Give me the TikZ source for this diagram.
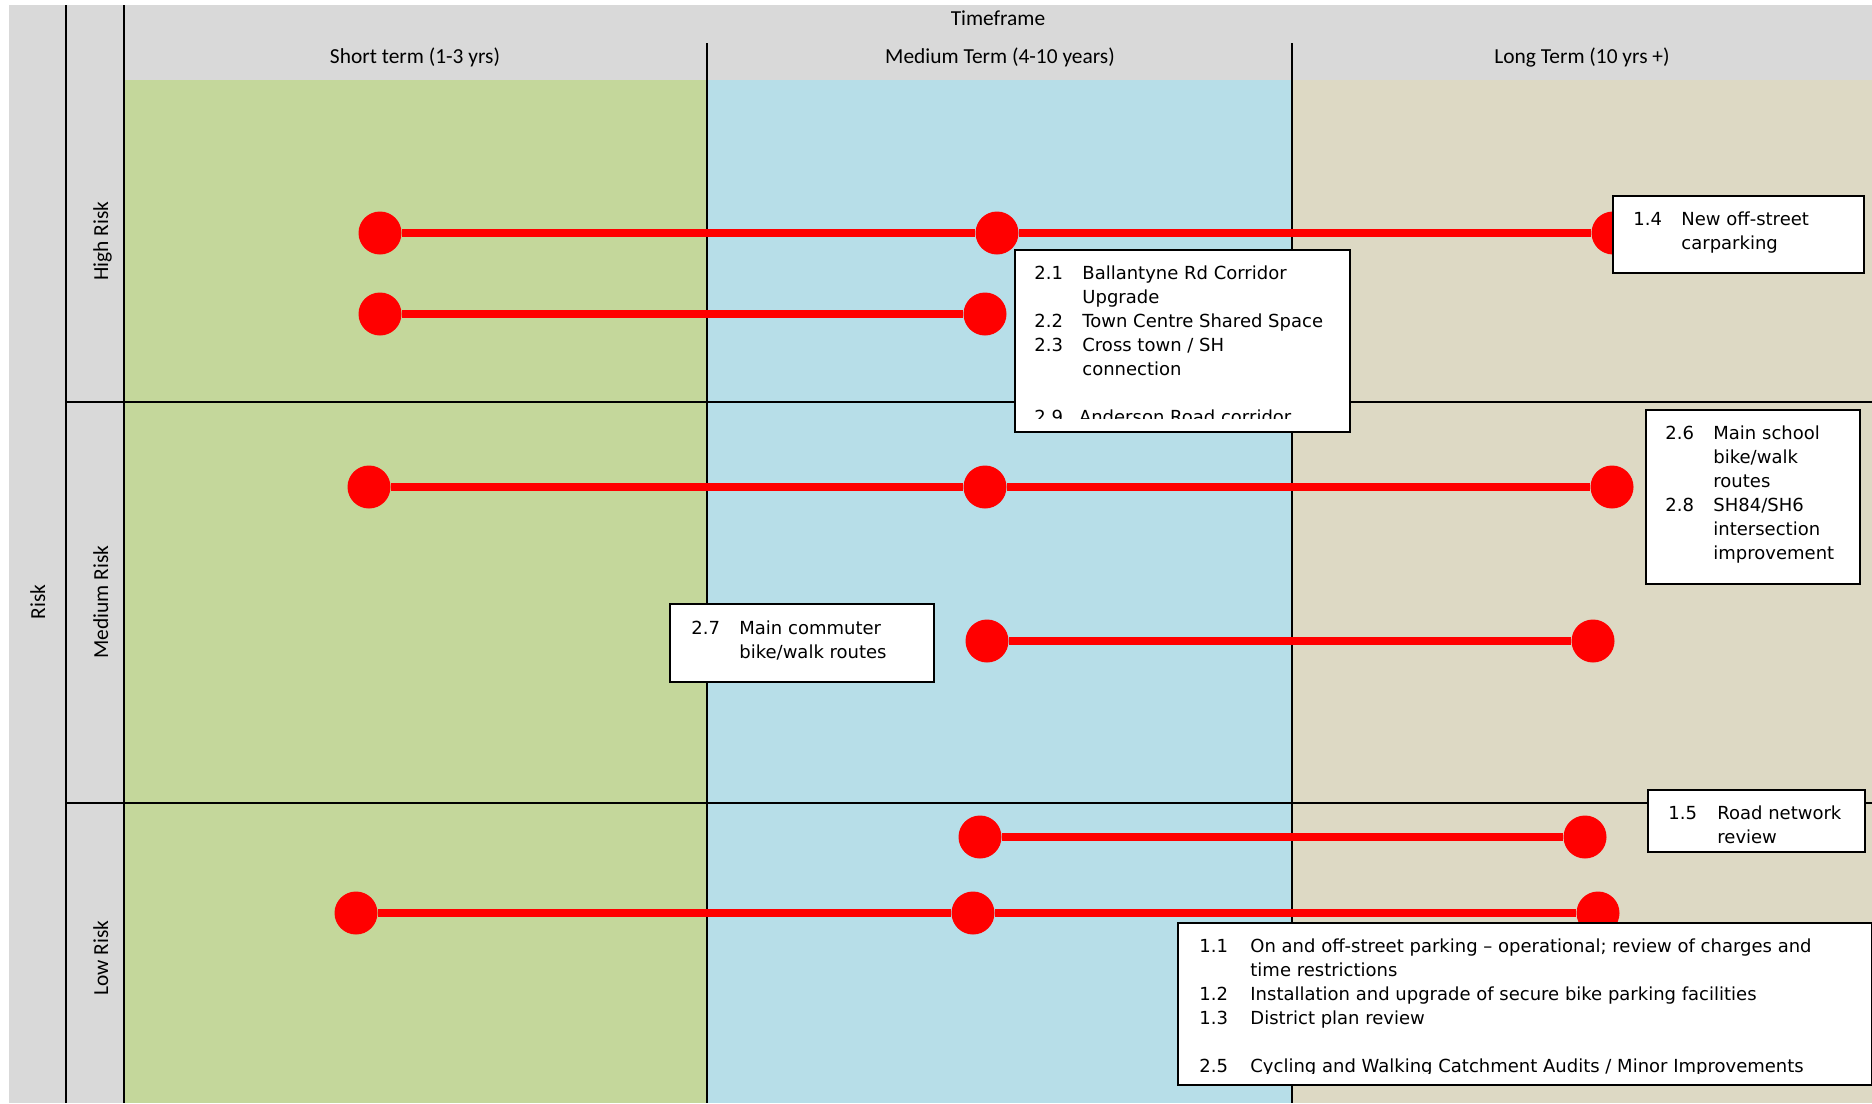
\documentclass[tikz,border=0pt]{standalone}
\usepackage{fontspec}
\setmainfont{Carlito}
\newfontfamily\boxfont{DejaVu Sans}
\definecolor{hdrgrey}{HTML}{D9D9D9}
\definecolor{shortgreen}{HTML}{C4D79B}
\definecolor{medblue}{HTML}{B7DEE8}
\definecolor{longtan}{HTML}{DDD9C4}
\definecolor{barred}{HTML}{FF0000}

\begin{document}
\begin{tikzpicture}[x=0.5pt,y=-0.5pt,
  grid/.style={line width=1pt, black},
  hdr/.style={font=\fontsize{10.7}{12}\selectfont, anchor=base, inner sep=0pt},
  rowlbl/.style={hdr, rotate=90},
  reddot/.style={circle, fill=barred, minimum size=21.5pt, inner sep=0pt},
  bar/.style={draw=barred, line width=4pt},
  itembox/.style={draw=black, fill=white, line width=1pt, anchor=north west, inner sep=0pt},
  itemtext/.style={anchor=north west, inner sep=0pt, font=\boxfont\fontsize{9}{12}\selectfont}
]
\useasboundingbox (0,0) rectangle (1872,1103);

% header band and row label strip
\fill[hdrgrey] (9,5) rectangle (1872,1103);

% timeframe columns
\fill[shortgreen] (124,80) rectangle (707,1103);
\fill[medblue]    (707,80) rectangle (1292,1103);
\fill[longtan]    (1292,80) rectangle (1872,1103);

% grid lines
\draw[grid] (66,5) -- (66,1103);
\draw[grid] (124,5) -- (124,1103);
\draw[grid] (707,43) -- (707,1103);
\draw[grid] (1292,43) -- (1292,1103);
\draw[grid] (66,402) -- (1872,402);
\draw[grid] (66,803) -- (1872,803);

% headings
\node[hdr] (tf) at (998,25.5) {Timeframe};
\node[hdr] (hs) at (415,63.5) {Short term (1-3 yrs)};
\node[hdr] (hm) at (1000,63.5) {Medium Term (4-10 years)};
\node[hdr] (hl) at (1582,63.5) {Long Term (10 yrs +)};

\node[rowlbl] (rh) at (108,241) {High Risk};
\node[rowlbl] (rm) at (108,602) {Medium Risk};
\node[rowlbl] (rl) at (108,958) {Low Risk};
\node[rowlbl] (rr) at (45,602) {Risk};

% milestone dots
\node[reddot] (a1) at (380,233) {};
\node[reddot] (a2) at (997,233) {};
\node[reddot] (a3) at (1613,233) {};
\node[reddot] (b1) at (380,314) {};
\node[reddot] (b2) at (985,314) {};
\node[reddot] (c1) at (369,487) {};
\node[reddot] (c2) at (985,487) {};
\node[reddot] (c3) at (1612,487) {};
\node[reddot] (d1) at (987,641) {};
\node[reddot] (d2) at (1593,641) {};
\node[reddot] (e1) at (980,837) {};
\node[reddot] (e2) at (1585,837) {};
\node[reddot] (f1) at (356,913) {};
\node[reddot] (f2) at (973,913) {};
\node[reddot] (f3) at (1598,913) {};

% timeline bars
\draw[bar] (a1) -- (a2) -- (a3);
\draw[bar] (b1) -- (b2);
\draw[bar] (c1) -- (c2) -- (c3);
\draw[bar] (d1) -- (d2);
\draw[bar] (e1) -- (e2);
\draw[bar] (f1) -- (f2) -- (f3);

% project boxes
\node[itembox, minimum width=125.5pt, minimum height=38.5pt] (b14) at (1612,195) {};
\node[itemtext] (t14) at (1633,208) {\begin{tabular}{@{}p{24pt}@{}l@{}}
1.4 & New off-street\\ & carparking\end{tabular}};

\node[itembox, minimum width=167.5pt, minimum height=91pt] (b21) at (1014,249) {};
\begin{scope}
  \clip (1015,250) rectangle (1348,418);
  \node[itemtext] (t21) at (1034,262) {\begin{tabular}{@{}p{24pt}@{}l@{}}
  2.1 & Ballantyne Rd Corridor\\
      & Upgrade\\
  2.2 & Town Centre Shared Space\\
  2.3 & Cross town / SH\\
      & connection\\
      & \\
  \multicolumn{2}{@{}l@{}}{2.9\hspace{8pt}Anderson Road corridor}
  \end{tabular}};
\end{scope}

\node[itembox, minimum width=107pt, minimum height=87pt] (b26) at (1645,409) {};
\node[itemtext] (t26) at (1665,422) {\begin{tabular}{@{}p{24pt}@{}l@{}}
2.6 & Main school\\
    & bike/walk\\
    & routes\\
2.8 & SH84/SH6\\
    & intersection\\
    & improvement\end{tabular}};

\node[itembox, minimum width=132pt, minimum height=39pt] (b27) at (669,603) {};
\node[itemtext] (t27) at (691,617) {\begin{tabular}{@{}p{24pt}@{}l@{}}
2.7 & Main commuter\\ & bike/walk routes\end{tabular}};

\node[itembox, minimum width=108.5pt, minimum height=31pt] (b15) at (1647,789) {};
\node[itemtext] (t15) at (1668,802) {\begin{tabular}{@{}p{24.5pt}@{}l@{}}
1.5 & Road network\\ & review\end{tabular}};

\node[itembox, minimum width=347pt, minimum height=81pt] (b11) at (1177,922) {};
\begin{scope}
  \clip (1178,923) rectangle (1870,1073);
  \node[itemtext] (t11) at (1199,935) {\begin{tabular}{@{}p{25.5pt}@{}l@{}}
  1.1 & On and off-street parking – operational; review of charges and\\
      & time restrictions\\
  1.2 & Installation and upgrade of secure bike parking facilities\\
  1.3 & District plan review\\
      & \\
  2.5 & Cycling and Walking Catchment Audits / Minor Improvements
  \end{tabular}};
\end{scope}
\end{tikzpicture}
\end{document}
